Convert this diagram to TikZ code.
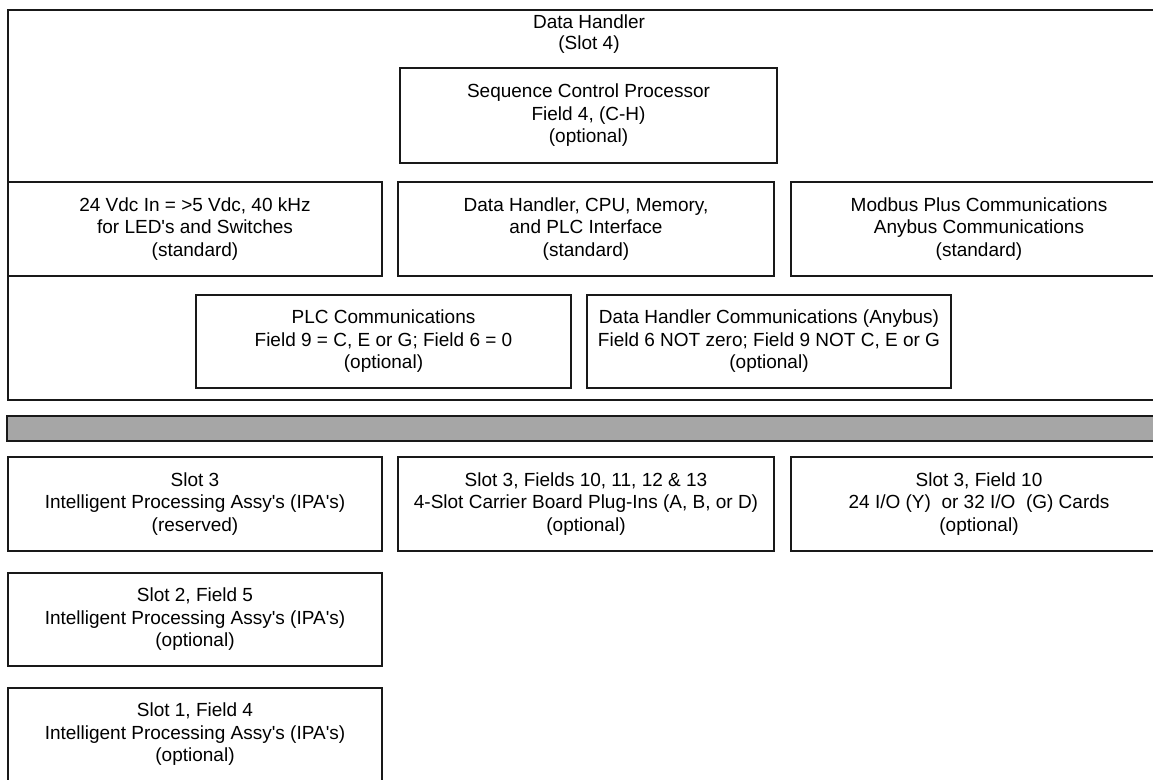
\documentclass[tikz,border=0pt]{standalone}
\usepackage{fontspec}
\setmainfont{Liberation Sans}
\definecolor{rack_line}{RGB}{25, 25, 25}
\definecolor{rack_bus}{RGB}{166, 166, 166}
\usetikzlibrary{positioning}
\newcommand{\apo}{\textquotesingle}

\begin{document}
\begin{tikzpicture}[x=1pt, y=-1pt,
    box/.style={draw=rack_line, line width=1.4pt, align=center, inner sep=0pt,
      font=\fontsize{19}{22.5}\selectfont},
    titletext/.style={align=center, inner sep=0pt, font=\fontsize{19}{21}\selectfont},
    busbar/.style={draw=rack_line, line width=1.6pt, fill=rack_bus, inner sep=0pt}]
  \useasboundingbox (0,0) rectangle (1153,779);
  \clip (0,0) rectangle (1153,779);

  % --- Data Handler, slot 4 ---
  \node[box, minimum width=1162pt, minimum height=390pt] (dh) at (589,205) {};
  \node[titletext] (dhtitle) at (589,34) {Data Handler\\(Slot 4)};
  \node[box, minimum width=377pt, minimum height=95pt] (scp) at (588.5,115.5)
    {Sequence Control Processor\\Field 4, (C-H)\\(optional)};

  % standard boards
  \node[box, minimum width=374pt, minimum height=94pt] (power) at (195,229)
    {24 Vdc In = >5 Vdc, 40 kHz\\for LED\apo s and Switches\\(standard)};
  \node[box, minimum width=376pt, minimum height=94pt] (cpu) at (586,229)
    {Data Handler, CPU, Memory,\\and PLC Interface\\(standard)};
  \node[box, minimum width=376pt, minimum height=94pt] (modbus) at (979,229)
    {Modbus Plus Communications\\Anybus Communications\\(standard)};

  % communication options
  \node[box, minimum width=375pt, minimum height=93pt] (plccomm) at (383.5,341.5)
    {PLC Communications\\Field 9 = C, E or G; Field 6 = 0\\(optional)};
  \node[box, minimum width=364pt, minimum height=93pt] (dhcomm) at (769,341.5)
    {Data Handler Communications (Anybus)\\Field 6 NOT zero; Field 9 NOT C, E or G\\(optional)};

  % --- Bus ---
  \node[busbar, minimum width=1163pt, minimum height=25pt] (bus) at (588.5,428.5) {};

  % --- Slot 3 ---
  \node[box, minimum width=374pt, minimum height=94pt] (slotthree) at (195,504)
    {Slot 3\\Intelligent Processing Assy\apo s (IPA\apo s)\\(reserved)};
  \node[box, minimum width=376pt, minimum height=94pt] (carrier) at (586,504)
    {Slot 3, Fields 10, 11, 12 \& 13\\4-Slot Carrier Board Plug-Ins (A, B, or D)\\(optional)};
  \node[box, minimum width=376pt, minimum height=94pt] (iocards) at (979,504)
    {Slot 3, Field 10\\24 I/O (Y) \ or 32 I/O \ (G) Cards\\(optional)};

  % --- Slots 2 and 1 ---
  \node[box, minimum width=374pt, minimum height=93pt] (slottwo) at (195,619.5)
    {Slot 2, Field 5\\Intelligent Processing Assy\apo s (IPA\apo s)\\(optional)};
  \node[box, minimum width=374pt, minimum height=93pt] (slotone) at (195,734.5)
    {Slot 1, Field 4\\Intelligent Processing Assy\apo s (IPA\apo s)\\(optional)};
\end{tikzpicture}
\end{document}
